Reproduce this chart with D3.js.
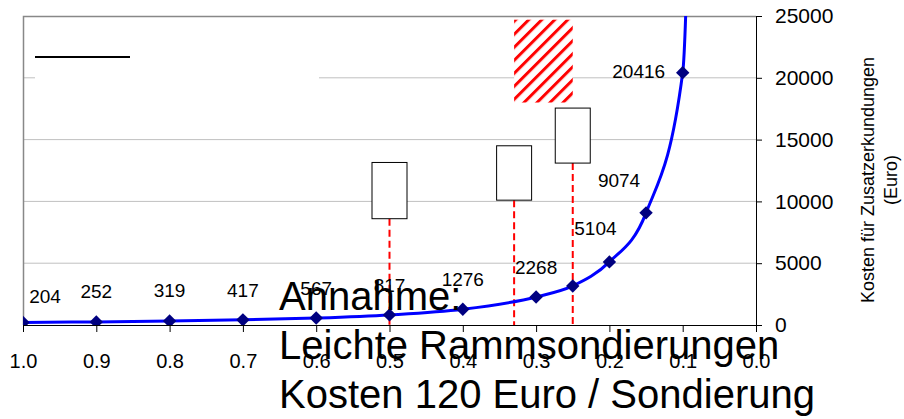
<!DOCTYPE html>
<html>
<head>
<meta charset="utf-8">
<script src="https://cdn.jsdelivr.net/npm/d3@7"></script>
<style>
    body { margin: 0; background: #fff; }
    text { font-family: "Liberation Sans", Arial, sans-serif; fill: #000; }
</style>
</head>
<body>
<div id="chart"></div>
<script>
const W = 904;
const H = 419;

// probability axis (reversed) and cost series
const xValues = [1.0, 0.9, 0.8, 0.7, 0.6, 0.5, 0.4, 0.3, 0.25, 0.2, 0.15, 0.1, 0.08];
const costs = [204, 252, 319, 417, 567, 817, 1276, 2268, 3160, 5104, 9074, 20416, 77000];
const costLabels = ["204", "252", "319", "417", "567", "817", "1276", "2268", "", "5104", "9074", "20416", ""];

// white boxes with dashed drop lines
const boxX = [0.5, 0.33, 0.25];
const boxLow = [8600, 10100, 13100];
const boxHigh = [13150, 14500, 17550];

// hatched area
const hatchX = [0.33, 0.25];
const hatchY = [18000, 24700];

const xTicks = [1.0, 0.9, 0.8, 0.7, 0.6, 0.5, 0.4, 0.3, 0.2, 0.1, 0.0];
const yTicks = [0, 5000, 10000, 15000, 20000, 25000];
const yTitle = ["Kosten für Zusatzerkundungen", "(Euro)"];
const note = ["Annahme:", "Leichte Rammsondierungen", "Kosten 120 Euro / Sondierung"];

let margin = { top: 16, left: 23, right: 148, bottom: 94 };
let width = W - margin.left - margin.right,
    height = H - margin.top - margin.bottom;

// label nudges (layout only), keyed by x value
const labelNudge = { "1": [22, -19], "0.9": [0, -24], "0.8": [0, -24], "0.2": [-14, -27], "0.15": [-27, -26], "0.1": [-44, 5] };

const svg = d3.select("#chart").append("svg")
    .attr("width", W)
    .attr("height", H);

const g = svg.append("g")
    .attr("transform", `translate(${margin.left}, ${margin.top})`);

let x = d3.scaleLinear().domain([1, 0]).range([0, width]);
let y = d3.scaleLinear().domain([0, 25000]).range([height, 0]);

const defs = svg.append("defs");
defs.append("clipPath").attr("id", "plot-clip")
    .append("rect").attr("width", width).attr("height", height);

const hatch = defs.append("pattern")
    .attr("id", "hatch")
    .attr("patternUnits", "userSpaceOnUse")
    .attr("width", 9.2).attr("height", 9.2)
    .attr("patternTransform", "rotate(45)");
hatch.append("rect").attr("width", 9.2).attr("height", 9.2).attr("fill", "#fff");
hatch.append("line")
    .attr("x1", 1.5).attr("x2", 1.5).attr("y1", 0).attr("y2", 9.2)
    .attr("stroke", "#ff0000").attr("stroke-width", 3);

// gridlines
g.append("g").selectAll("line")
    .data(yTicks.filter(d => d > 0 && d < 25000))
    .enter().append("line")
    .attr("x1", 0).attr("x2", width)
    .attr("y1", d => y(d)).attr("y2", d => y(d))
    .attr("stroke", "#c0c0c0").attr("stroke-width", 1);

// plot border (top, left)
g.append("path")
    .attr("d", `M0.5,${height}V0.5H${width}`)
    .attr("fill", "none").attr("stroke", "#888").attr("stroke-width", 1.5);

// legend area
g.append("rect")
    .attr("x", 12).attr("y", 10).attr("width", 284).attr("height", 85)
    .attr("fill", "#fff");
g.append("line")
    .attr("x1", 12).attr("x2", 107).attr("y1", 41).attr("y2", 41)
    .attr("stroke", "#000").attr("stroke-width", 2);

// hatched rectangle
g.append("rect")
    .attr("x", x(hatchX[0])).attr("width", x(hatchX[1]) - x(hatchX[0]))
    .attr("y", y(hatchY[1])).attr("height", y(hatchY[0]) - y(hatchY[1]))
    .attr("fill", "url(#hatch)");

// dashed drop lines
g.append("g").selectAll("line")
    .data(boxX)
    .enter().append("line")
    .attr("x1", d => x(d)).attr("x2", d => x(d))
    .attr("y1", (d, i) => y(boxLow[i])).attr("y2", height)
    .attr("stroke", "#ff0000").attr("stroke-width", 2)
    .attr("stroke-dasharray", "7,4");

// boxes
const boxW = 35;
g.append("g").selectAll("rect")
    .data(boxX)
    .enter().append("rect")
    .attr("x", d => x(d) - boxW / 2)
    .attr("y", (d, i) => y(boxHigh[i]))
    .attr("width", boxW)
    .attr("height", (d, i) => y(boxLow[i]) - y(boxHigh[i]))
    .attr("fill", "#fff").attr("stroke", "#000").attr("stroke-width", 1);

// cost curve
const pts = xValues.map((v, i) => ({ x: v, cost: costs[i], label: costLabels[i] }));
const line = d3.line()
    .x(d => x(d.x))
    .y(d => y(d.cost))
    .curve(d3.curveMonotoneX);

const plot = g.append("g").attr("clip-path", "url(#plot-clip)");
plot.append("path")
    .datum(pts)
    .attr("d", line)
    .attr("fill", "none").attr("stroke", "#0000ff").attr("stroke-width", 3);

plot.selectAll(".marker")
    .data(pts)
    .enter().append("path")
    .attr("class", "marker")
    .attr("d", d3.symbol(d3.symbolSquare, 90))
    .attr("transform", d => `translate(${x(d.x)}, ${y(d.cost)}) rotate(45)`)
    .attr("fill", "#000080");

g.append("g").selectAll("text")
    .data(pts.filter(d => d.label !== ""))
    .enter().append("text")
    .attr("x", d => x(d.x) + (labelNudge[d.x] || [0, -23])[0])
    .attr("y", d => y(d.cost) + (labelNudge[d.x] || [0, -23])[1])
    .attr("text-anchor", "middle")
    .style("font-size", "19px")
    .text(d => d.label);

// x axis
let xAxis = g.append("g")
    .attr("transform", `translate(0, ${height})`)
    .call(d3.axisBottom(x).tickValues(xTicks).tickFormat(d3.format(".1f"))
        .tickSize(7).tickSizeOuter(0).tickPadding(22));
xAxis.selectAll("text").style("font-size", "20px").attr("font-family", null);
xAxis.selectAll("line, path").attr("stroke", "#000");

// y axis on the right
let yAxis = g.append("g")
    .attr("transform", `translate(${width}, 0)`)
    .call(d3.axisRight(y).tickValues(yTicks).tickFormat(d3.format("d"))
        .tickSize(6).tickSizeOuter(0).tickPadding(13));
yAxis.selectAll("text").style("font-size", "21px").attr("font-family", null);
yAxis.selectAll("line, path").attr("stroke", "#000");

// y axis title
const title = svg.append("text")
    .attr("transform", "translate(874, 180) rotate(-90)")
    .attr("text-anchor", "middle")
    .style("font-size", "18px");
title.selectAll("tspan")
    .data(yTitle)
    .enter().append("tspan")
    .attr("x", 0)
    .attr("dy", (d, i) => i === 0 ? 0 : 23)
    .text(d => d);

// annotation on top
svg.append("g").selectAll("text")
    .data(note)
    .enter().append("text")
    .attr("x", 279)
    .attr("y", (d, i) => 310 + i * 49)
    .style("font-size", "40px")
    .text(d => d);
</script>
</body>
</html>
